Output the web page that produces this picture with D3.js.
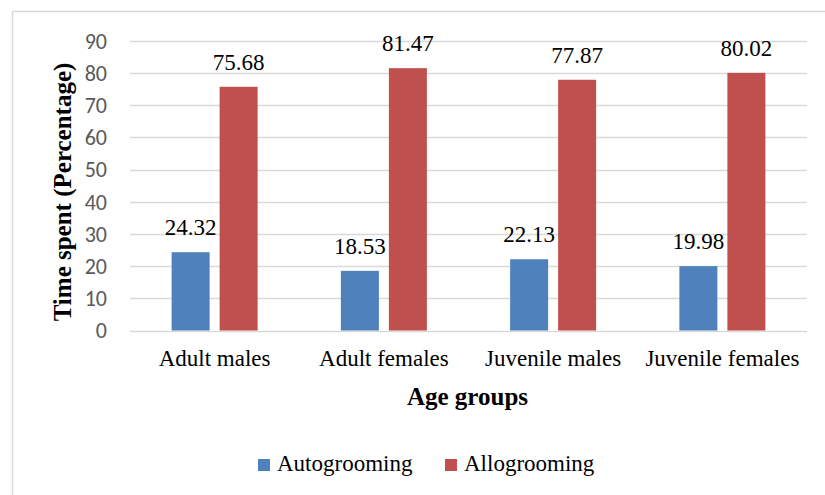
<!DOCTYPE html>
<html>
<head>
<meta charset="utf-8">
<script src="https://cdn.jsdelivr.net/npm/d3@7"></script>
<style>
  html, body { margin: 0; padding: 0; background: #fff; }
  svg { display: block; }
</style>
</head>
<body>
<script>
// Grooming time by age group
const categories = ["Adult males", "Adult females", "Juvenile males", "Juvenile females"];
const seriesNames = ["Autogrooming", "Allogrooming"];
const autogrooming = [24.32, 18.53, 22.13, 19.98];
const allogrooming = [75.68, 81.47, 77.87, 80.02];
const yTicks = [0, 10, 20, 30, 40, 50, 60, 70, 80, 90];
const colors = ["#4f81bd", "#c0504d"];

const W = 825, H = 495;
const serif = '"Liberation Serif", "Times New Roman", serif';
const sans = '"Carlito", "Liberation Sans", sans-serif';

const svg = d3.select("body").append("svg")
  .attr("width", W).attr("height", H);

// chart frame
svg.append("rect")
  .attr("x", 12.5).attr("y", 11.5)
  .attr("width", 830).attr("height", 500)
  .attr("fill", "#fff").attr("stroke", "#d9d9d9").attr("stroke-width", 1.5);

const plot = { left: 130, right: 807, top: 40.7, bottom: 330.5 };

const x = d3.scaleBand().domain(categories)
  .range([plot.left, plot.right]).paddingInner(0).paddingOuter(0);
const y = d3.scaleLinear().domain([0, 90]).range([plot.bottom, plot.top]);

// gridlines
svg.append("g").selectAll("line").data(yTicks).join("line")
  .attr("x1", plot.left).attr("x2", plot.right)
  .attr("y1", d => Math.round(y(d)) + 0.5).attr("y2", d => Math.round(y(d)) + 0.5)
  .attr("stroke", "#d9d9d9").attr("stroke-width", 1.3);

// y axis labels
const yAxis = d3.axisLeft(y).tickValues(yTicks).tickSize(0).tickPadding(0);
const gy = svg.append("g").attr("transform", "translate(107,0)").call(yAxis);
gy.attr("font-family", null).attr("font-size", null);
gy.select(".domain").remove();
gy.selectAll("text")
  .style("font-family", sans).style("font-size", "22px")
  .attr("fill", "#595959").attr("dy", "0.34em");

// bars
const barW = 38, gap = 10;
const series = [autogrooming, allogrooming];
series.forEach((vals, si) => {
  const off = si === 0 ? -(gap / 2 + barW) : gap / 2;
  const g = svg.append("g");
  g.selectAll("rect").data(categories).join("rect")
    .attr("x", c => x(c) + x.bandwidth() / 2 + off)
    .attr("y", (c, i) => y(vals[i]))
    .attr("width", barW)
    .attr("height", (c, i) => y(0) - y(vals[i]))
    .attr("fill", colors[si]);
  g.selectAll("text").data(categories).join("text")
    .attr("x", c => x(c) + x.bandwidth() / 2 + off + barW / 2)
    .attr("y", (c, i) => y(vals[i]) - 17)
    .attr("text-anchor", "middle")
    .style("font-family", serif).style("font-size", "23px").attr("fill", "#000")
    .text((c, i) => vals[i].toFixed(2));
});

// category labels
const xAxis = d3.axisBottom(x).tickSize(0).tickPadding(0);
const gx = svg.append("g").attr("transform", "translate(0,366)").call(xAxis);
gx.attr("font-family", null).attr("font-size", null);
gx.select(".domain").remove();
gx.selectAll("text")
  .style("font-family", serif).style("font-size", "23px")
  .attr("fill", "#000").attr("dy", 0);

// axis titles
svg.append("text")
  .attr("x", (plot.left + plot.right) / 2 - 1).attr("y", 405)
  .attr("text-anchor", "middle")
  .style("font-family", serif).style("font-size", "25px").style("font-weight", "bold")
  .text("Age groups");

svg.append("text")
  .attr("transform", "translate(71,192) rotate(-90)")
  .attr("text-anchor", "middle")
  .style("font-family", serif).style("font-size", "25px").style("font-weight", "bold")
  .text("Time spent (Percentage)");

// legend
const legendX = [258, 445];
const lg = svg.append("g");
seriesNames.forEach((name, i) => {
  lg.append("rect")
    .attr("x", legendX[i]).attr("y", 459)
    .attr("width", 12).attr("height", 12)
    .attr("fill", colors[i]);
  lg.append("text")
    .attr("x", legendX[i] + 19).attr("y", 471)
    .style("font-family", serif).style("font-size", "23px")
    .text(name);
});
</script>
</body>
</html>
